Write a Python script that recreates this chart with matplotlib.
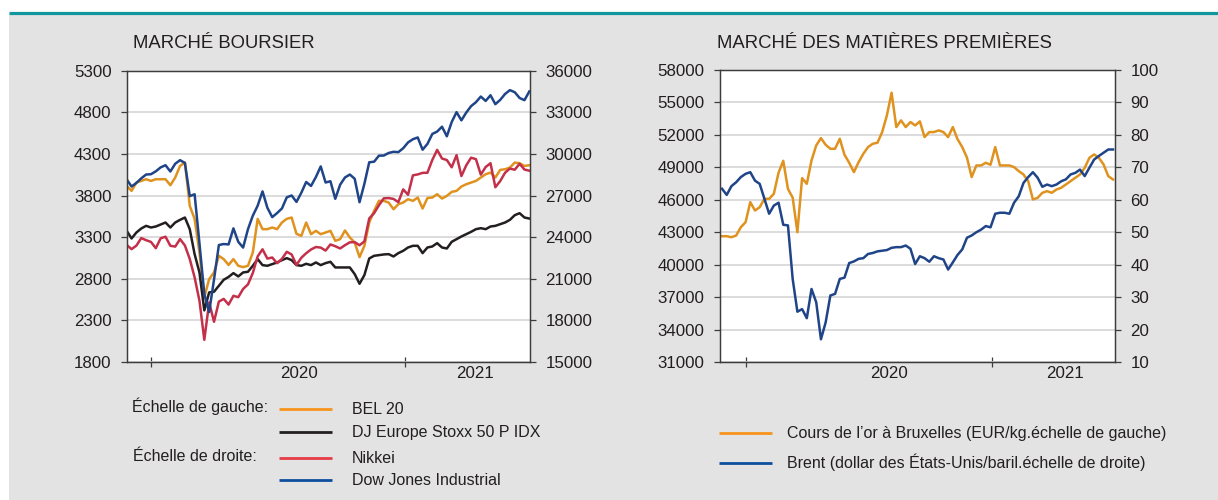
import numpy as np
import pandas as pd
import matplotlib
matplotlib.use("Agg")
import matplotlib.pyplot as plt
import matplotlib.dates as mdates
from matplotlib.lines import Line2D
from matplotlib.patches import Rectangle

plt.rcParams['font.family'] = ['Liberation Sans', 'DejaVu Sans']

# ---------------- data (weekly, Wednesdays) ----------------
dates = pd.date_range('2019-11-27', periods=84, freq='7D')

bel20 = [3916, 3856, 3956, 3976, 3996, 3976, 3996, 3996, 3996, 3924,
         4016, 4156, 4196, 3676, 3520, 3116, 2580, 2796, 2876, 3076,
         3036, 2966, 3036, 2956, 2940, 2956, 3116, 3520, 3396, 3396,
         3416, 3396, 3476, 3520, 3536, 3340, 3316, 3476, 3336, 3376,
         3336, 3356, 3376, 3256, 3276, 3380, 3296, 3236, 3060, 3196,
         3476, 3616, 3736, 3736, 3716, 3636, 3696, 3716, 3756, 3736,
         3776, 3644, 3770, 3776, 3816, 3764, 3796, 3844, 3856, 3908,
         3936, 3956, 3976, 4016, 4056, 4076, 4016, 4108, 4116, 4136,
         4196, 4188, 4156, 4164]

stoxx50 = [3376, 3284, 3356, 3404, 3436, 3416, 3428, 3452, 3476, 3416,
           3476, 3508, 3536, 3396, 3096, 2876, 2420, 2636, 2644, 2716,
           2788, 2822, 2868, 2828, 2876, 2884, 2956, 3036, 2964, 2956,
           2976, 2996, 3024, 3048, 3024, 2964, 2956, 2980, 2964, 2996,
           2964, 2988, 3004, 2936, 2936, 2936, 2936, 2856, 2740, 2844,
           3044, 3076, 3084, 3092, 3096, 3068, 3108, 3136, 3176, 3196,
           3196, 3108, 3176, 3188, 3228, 3176, 3164, 3244, 3276, 3308,
           3336, 3364, 3396, 3408, 3396, 3428, 3436, 3456, 3476, 3508,
           3564, 3588, 3536, 3524]

nikkei = [23438, 23135, 23391, 23934, 23782, 23657, 23204, 23917, 24031, 23379,
          23320, 23861, 23400, 22426, 21100, 19416, 16600, 19300, 17900, 19353,
          19550, 19137, 19771, 19674, 20267, 20595, 21419, 22613, 23125, 22455,
          22534, 22122, 22438, 22945, 22751, 22000, 22514, 22844, 23110, 23290,
          23247, 23032, 23475, 23346, 23185, 23422, 23627, 23639, 23418, 23695,
          25349, 25728, 26297, 26800, 26817, 26757, 26524, 27444, 27056, 28456,
          28523, 28635, 28646, 29562, 30292, 29671, 29559, 29036, 29914, 28405,
          29179, 29730, 29621, 28508, 29054, 29331, 27600, 28044, 28642, 28946,
          28861, 29291, 28874, 28791]

dow_jones = [28164, 27650, 27911, 28239, 28515, 28538, 28745, 29030, 29186, 28734,
             29290, 29551, 29348, 26957, 27091, 23553, 19899, 18600, 20943, 23434,
             23504, 23475, 24634, 23664, 23248, 24576, 25548, 26270, 27300, 26120,
             25445, 25735, 26067, 26870, 27005, 26540, 27202, 27977, 27692, 28332,
             29100, 27940, 28032, 26763, 27782, 28303, 28514, 28211, 26520, 27847,
             29398, 29438, 29873, 29884, 30068, 30154, 30129, 30409, 30829, 31060,
             31188, 30303, 30724, 31438, 31613, 31962, 31270, 32297, 33015, 32420,
             32982, 33446, 33730, 34137, 33820, 34230, 33587, 33896, 34323, 34600,
             34447, 34033, 33874, 34502]

gold_eur_kg = [42632, 42632, 42540, 42694, 43465, 43928, 45780, 45008, 45317, 46088,
               46088, 46551, 48500, 49600, 47000, 46200, 43000, 48000, 47477, 49637,
               51025, 51700, 51087, 50717, 50717, 51643, 50162, 49421, 48557, 49483,
               50254, 50871, 51180, 51272, 52260, 53803, 55900, 52723, 53340, 52723,
               53186, 52877, 53248, 51800, 52260, 52260, 52414, 52260, 51797, 52723,
               51600, 50871, 49900, 48100, 49174, 49174, 49421, 49236, 50871, 49174,
               49174, 49174, 49020, 48650, 48341, 47724, 46027, 46181, 46644, 46800,
               46644, 46952, 47107, 47415, 47724, 48032, 48341, 48958, 49884, 50192,
               49884, 49267, 48187, 47878]

brent_usd = [63.4, 61.5, 64.2, 65.4, 67.0, 68.0, 68.5, 65.9, 64.9, 60.3,
             55.7, 58.2, 59.1, 52.3, 52.1, 35.6, 25.5, 26.3, 23.5, 32.5,
             28.4, 17.0, 22.2, 30.5, 31.0, 35.6, 36.0, 40.5, 41.0, 41.8,
             42.0, 43.3, 43.6, 44.1, 44.3, 44.5, 45.2, 45.4, 45.4, 45.9,
             44.9, 40.2, 42.6, 42.0, 40.9, 42.6, 42.0, 41.6, 38.5, 40.7,
             43.0, 44.7, 48.3, 49.0, 50.0, 50.8, 51.9, 51.5, 55.7, 56.0,
             56.0, 55.7, 59.1, 61.1, 65.2, 67.0, 68.5, 66.8, 64.0, 64.7,
             64.2, 64.7, 65.7, 66.3, 67.8, 68.3, 69.3, 67.3, 69.9, 72.4,
             73.5, 74.5, 75.5, 75.5]

stock_left_ticks = [1800, 2300, 2800, 3300, 3800, 4300, 4800, 5300]
stock_right_ticks = [15000, 18000, 21000, 24000, 27000, 30000, 33000, 36000]
comm_left_ticks = [31000, 34000, 37000, 40000, 43000, 46000, 49000, 52000, 55000, 58000]
comm_right_ticks = [10, 20, 30, 40, 50, 60, 70, 80, 90, 100]
year_labels = ['2020', '2021']

# ---------------- styling ----------------
W, H = 1218, 500
TXT = '#231f20'
SPINE = '#3c3c3c'
ORANGE, BLACK, RED, BLUE = '#e0921e', '#231f20', '#c4304a', '#1f4588'
L_ORANGE, L_BLACK, L_RED, L_BLUE = '#f7941d', '#231f20', '#e63c46', '#0d4f9e'

fig = plt.figure(figsize=(W / 100, H / 100), dpi=100, facecolor='white')


def fx(x):
    return x / W


def fy(y):
    return 1 - y / H


fig.add_artist(Rectangle((fx(9), 0), 1 - fx(9), fy(14), transform=fig.transFigure,
                         facecolor='#e3e3e3', edgecolor='none', zorder=0))
fig.add_artist(Line2D([fx(9), 1], [fy(13), fy(13)], transform=fig.transFigure,
                      color='#12979f', lw=2.3, solid_capstyle='butt'))

xd = mdates.date2num(dates.to_pydatetime())


def dnum(s):
    return mdates.date2num(pd.Timestamp(s).to_pydatetime())


def style(ax, axr, lt, rt, xlim, label_dates):
    ax.set_facecolor('white')
    for a in (ax, axr):
        for s in a.spines.values():
            s.set_color(SPINE)
            s.set_linewidth(0.9)
    ax.set_ylim(lt[0], lt[-1])
    ax.set_yticks(lt)
    axr.set_ylim(rt[0], rt[-1])
    axr.set_yticks(rt)
    ax.grid(axis='y', color='#d9d9d9', lw=1.3)
    ax.set_axisbelow(True)
    for a in (ax, axr):
        a.tick_params(axis='y', direction='out', length=4, width=0.9, color=SPINE,
                      pad=7, labelsize=12.2, labelcolor=TXT)
    ax.set_xlim(dnum(xlim[0]), dnum(xlim[1]))
    ax.set_xticks([dnum('2020-01-01'), dnum('2021-01-01')])
    ax.set_xticklabels(['', ''])
    ax.tick_params(axis='x', which='major', direction='inout', length=7, width=0.9, color=SPINE)
    ax.set_xticks([dnum(d) for d in label_dates], minor=True)
    ax.set_xticklabels(year_labels, minor=True)
    ax.tick_params(axis='x', which='minor', length=0, pad=3, labelsize=12.2, labelcolor=TXT)


# ---- left panel ----
ax1 = fig.add_axes([fx(126.7), fy(362), (530 - 126.7) / W, (362 - 70.7) / H])
ax1r = ax1.twinx()
style(ax1, ax1r, stock_left_ticks, stock_right_ticks,
      ('2019-11-27', '2021-07-01'), ('2020-08-02', '2021-04-12'))
ax1.plot(xd, bel20, color=ORANGE, lw=1.8)
ax1.plot(xd, stoxx50, color=BLACK, lw=1.8)
ax1r.plot(xd, nikkei, color=RED, lw=1.8)
ax1r.plot(xd, dow_jones, color=BLUE, lw=1.8)

# ---- right panel ----
ax2 = fig.add_axes([fx(720), fy(362), (1115 - 720) / W, (362 - 70) / H])
ax2r = ax2.twinx()
style(ax2, ax2r, comm_left_ticks, comm_right_ticks,
      ('2019-11-24', '2021-07-03'), ('2020-08-01', '2021-04-20'))
ax2.plot(xd, gold_eur_kg, color=ORANGE, lw=1.8)
ax2r.plot(xd, brent_usd, color=BLUE, lw=1.8)

# ---- titles ----
fig.text(fx(133), fy(48), 'MARCHÉ BOURSIER', fontsize=13.3, color=TXT, va='baseline', ha='left')
fig.text(fx(717), fy(48), 'MARCHÉ DES MATIÈRES PREMIÈRES', fontsize=13.3, color=TXT,
         va='baseline', ha='left')

# ---- legends ----
def leg_line(x0, x1, y, c):
    fig.add_artist(Line2D([fx(x0), fx(x1)], [fy(y), fy(y)], transform=fig.transFigure,
                          color=c, lw=2.0, solid_capstyle='butt'))


def leg_text(x, y, s):
    fig.text(fx(x), fy(y), s, fontsize=11.5, color=TXT, va='baseline', ha='left')


leg_text(131.7, 412, 'Échelle de gauche:')
leg_text(132.7, 461, 'Échelle de droite:')
stock_items = [('BEL 20', L_ORANGE, 409), ('DJ Europe Stoxx 50 P IDX', L_BLACK, 431.7),
               ('Nikkei', L_RED, 458.3), ('Dow Jones Industrial', L_BLUE, 480)]
for name, c, y in stock_items:
    leg_line(279, 331.7, y, c)
    leg_text(351.7, y + 5, name)

comm_items = [("Cours de l’or à Bruxelles (EUR/kg.échelle de gauche)", L_ORANGE, 433.3),
              ('Brent (dollar des États-Unis/baril.échelle de droite)', L_BLUE, 462.7)]
for name, c, y in comm_items:
    leg_line(719, 771.7, y, c)
    leg_text(786.7, y + 5, name)

fig.savefig('out.png', dpi=100, facecolor=fig.get_facecolor())
